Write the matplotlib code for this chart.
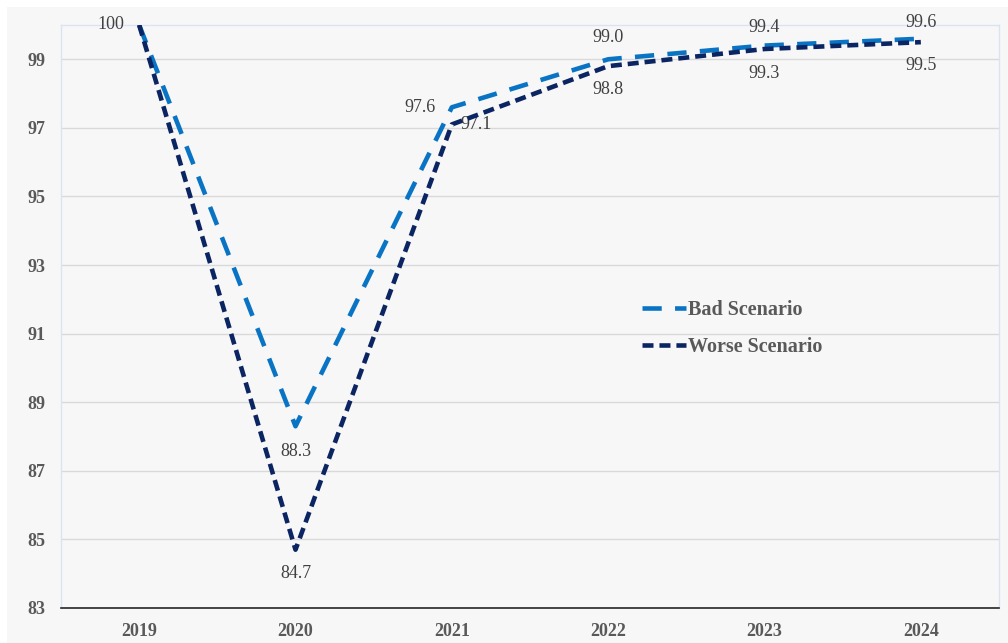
import matplotlib
matplotlib.use("Agg")
import matplotlib.pyplot as plt
from matplotlib.patches import Rectangle

years = ["2019", "2020", "2021", "2022", "2023", "2024"]
bad = [100, 88.3, 97.6, 99.0, 99.4, 99.6]
worse = [100, 84.7, 97.1, 98.8, 99.3, 99.5]
yticks = [83, 85, 87, 89, 91, 93, 95, 97, 99]

plt.rcParams['font.family'] = ['Liberation Serif', 'DejaVu Serif']

fig = plt.figure(figsize=(10.08, 6.43), dpi=100)
fig.patch.set_facecolor('white')
fig.add_artist(Rectangle((7/1008, 0), 1 - 7/1008, 1 - 7/643, transform=fig.transFigure,
                         facecolor='#f7f7f7', edgecolor='none', zorder=-10))
ax = fig.add_axes([61/1008, 1 - 608/643, (999-61)/1008, (608-25)/643])
ax.set_facecolor('#f7f7f7')

x = list(range(len(years)))
ax.plot(x, bad, color='#0a74c4', lw=3.3, dashes=(4.2, 2.9), label='Bad Scenario', zorder=3)
ax.plot(x, worse, color='#0b2462', lw=3.3, dashes=(2.4, 1.3), label='Worse Scenario', zorder=4)

ax.set_xlim(-0.5, 5.5)
ax.set_ylim(83, 100)
ax.set_yticks(yticks)
ax.set_xticks(x)
ax.set_xticklabels(years)
for t in ax.get_xticklabels() + ax.get_yticklabels():
    t.set_fontweight('bold')
    t.set_color('#595959')
    t.set_fontsize(13)
ax.tick_params(axis='both', length=0)
ax.tick_params(axis='y', pad=11)
ax.tick_params(axis='x', pad=11)
ax.grid(axis='y', color='#d9d9d9', lw=1)
ax.set_axisbelow(True)
for s in ['left', 'top', 'right']:
    ax.spines[s].set_color('#dae3f3')
    ax.spines[s].set_linewidth(1)
ax.spines['bottom'].set_color('#262626')
ax.spines['bottom'].set_linewidth(1.2)

lab = dict(fontsize=13, color='#404040', textcoords='offset points', va='center')
ax.annotate(f"{bad[0]:g}", (x[0], bad[0]), xytext=(-11, 0), ha='right', **lab)
ax.annotate(f"{bad[1]:.1f}", (x[1], bad[1]), xytext=(0, -18), ha='center', **lab)
ax.annotate(f"{worse[1]:.1f}", (x[1], worse[1]), xytext=(0, -17), ha='center', **lab)
ax.annotate(f"{bad[2]:.1f}", (x[2], bad[2]), xytext=(-12, 0), ha='right', **lab)
ax.annotate(f"{worse[2]:.1f}", (x[2], worse[2]), xytext=(6, 0), ha='left', **lab)
bad_off = [16, 13, 12]
worse_off = [-17, -17.5, -17]
for j, i in enumerate(range(3, 6)):
    ax.annotate(f"{bad[i]:.1f}", (x[i], bad[i]), xytext=(0, bad_off[j]), ha='center', **lab)
    ax.annotate(f"{worse[i]:.1f}", (x[i], worse[i]), xytext=(0, worse_off[j]), ha='center', **lab)

leg = ax.legend(loc='upper left', bbox_to_anchor=(0.6, 0.56), frameon=False,
                prop={'family': ['Liberation Serif'], 'weight': 'bold', 'size': 14.5},
                handlelength=2.2, handletextpad=0.1, labelspacing=0.85)
for t in leg.get_texts():
    t.set_color('#595959')

fig.savefig('out.png', dpi=100, facecolor=fig.get_facecolor())
